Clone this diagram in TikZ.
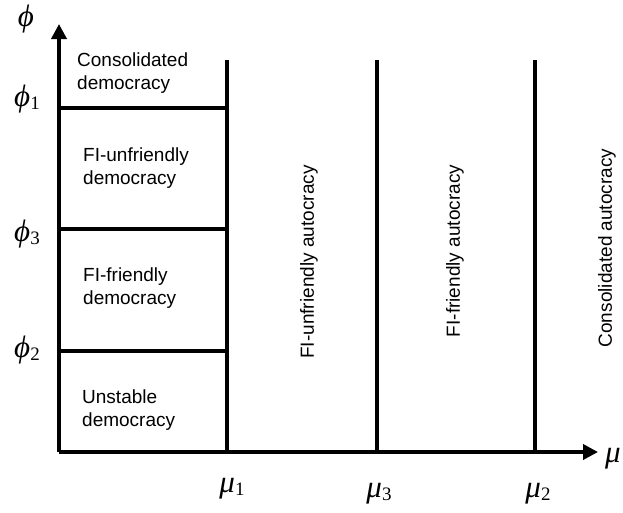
\documentclass[tikz,border=0pt]{standalone}
\usepackage{fontspec}
\setmainfont{Liberation Sans}
\newfontfamily\tms{Liberation Serif}
\usetikzlibrary{arrows.meta}
\newcommand{\gsym}[2]{{\tms\fontsize{31}{31}\selectfont\itshape #1}{\tms\fontsize{19}{19}\selectfont\raisebox{-0.3ex}{#2}}}
\tikzset{
  axisline/.style={line width=3.6pt},
  axisarrow/.style={line width=3.6pt,-{Triangle[length=15pt,width=15pt]}},
  region/.style={inner sep=0pt,align=left,anchor=west,font=\fontsize{19}{23}\selectfont},
  vregion/.style={inner sep=0pt,rotate=90,anchor=center,font=\fontsize{19}{23}\selectfont},
  ticklab/.style={inner sep=0pt,anchor=center}
}
\begin{document}
\begin{tikzpicture}[x=1pt,y=-1pt]
\useasboundingbox (0,0) rectangle (623,512);
% key points
\coordinate (O) at (59,452);
\coordinate (Ytop) at (59,24);
\coordinate (Xend) at (598,452);
\coordinate (M1t) at (227,60);  \coordinate (M1b) at (227,452);
\coordinate (M3t) at (377,60);  \coordinate (M3b) at (377,452);
\coordinate (M2t) at (535,60);  \coordinate (M2b) at (535,452);
\coordinate (P1l) at (59,108);  \coordinate (P1r) at (227,108);
\coordinate (P3l) at (59,229);  \coordinate (P3r) at (227,229);
\coordinate (P2l) at (59,351);  \coordinate (P2r) at (227,351);
% boundaries
\draw[axisline] (M1t) -- (M1b);
\draw[axisline] (M3t) -- (M3b);
\draw[axisline] (M2t) -- (M2b);
\draw[axisline] (P1l) -- (P1r);
\draw[axisline] (P3l) -- (P3r);
\draw[axisline] (P2l) -- (P2r);
% axes
\draw[axisarrow] (O) -- (Ytop);
\draw[axisarrow] (O) -- (Xend);
% axis labels
\node[ticklab] (phi) at (26,19) {\gsym{ϕ}{}};
\node[ticklab] (phi1) at (27,99) {\gsym{ϕ}{1}};
\node[ticklab] (phi3) at (27,234) {\gsym{ϕ}{3}};
\node[ticklab] (phi2) at (27,350) {\gsym{ϕ}{2}};
\node[ticklab] (mu) at (613,459) {\gsym{μ}{}};
\node[ticklab] (mu1) at (232,489) {\gsym{μ}{1}};
\node[ticklab] (mu3) at (379,494) {\gsym{μ}{3}};
\node[ticklab] (mu2) at (538,494) {\gsym{μ}{2}};
% region labels
\node[region] (cd) at (77,73) {Consolidated\\democracy};
\node[region] (fud) at (83,168.5) {FI-unfriendly\\democracy};
\node[region] (ffd) at (83,288.5) {FI-friendly\\democracy};
\node[region] (ud) at (82,410.5) {Unstable\\democracy};
\node[vregion] (fua) at (309,262) {FI-unfriendly autocracy};
\node[vregion] (ffa) at (455,251) {FI-friendly autocracy};
\node[vregion] (ca) at (607,248) {Consolidated autocracy};
\end{tikzpicture}
\end{document}
